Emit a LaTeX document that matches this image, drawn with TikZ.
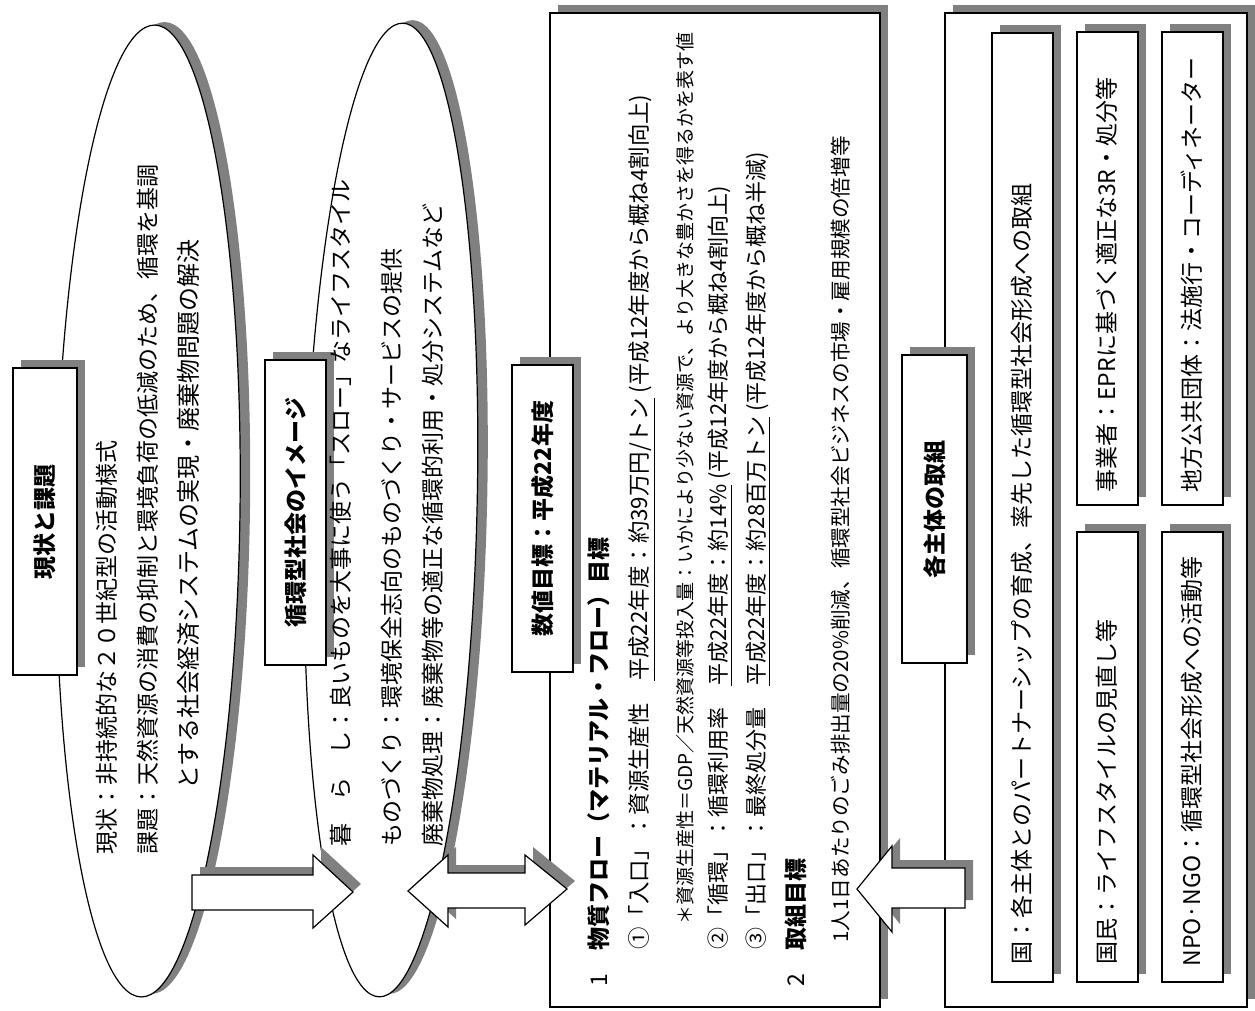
\documentclass[tikz,border=0pt]{standalone}
\usepackage{fontspec}
\setmainfont{Noto Sans CJK JP}
\usetikzlibrary{shapes.geometric,shadows}
\begin{document}
\begin{tikzpicture}[x=0.5pt,y=-0.5pt,
  shd/.style={drop shadow={shadow xshift=4pt,shadow yshift=4pt,fill=black!50,opacity=1}},
  box/.style={draw,fill=white,line width=0.6pt,inner sep=0pt,shd},
  oval/.style={ellipse,draw,fill=white,line width=0.6pt,inner sep=0pt,
    drop shadow={shadow xshift=5pt,shadow yshift=1.5pt,fill=black!50,opacity=1}},
  blockarrow/.style={draw,fill=white,line width=0.6pt,line join=miter,shd},
  txt/.style={rotate=90,anchor=west,inner sep=0pt,font=\fontsize{11.5pt}{14pt}\selectfont},
  fs/.style={font=\fontsize{#1}{14pt}\selectfont},
  ttl/.style={rotate=90,inner sep=0pt,font=\fontsize{11.5pt}{14pt}\selectfont\bfseries}]
\useasboundingbox (0,0) rectangle (1255,1011);
\fill[white] (0,0) rectangle (1255,1011);

% ellipses
\node[oval,minimum width=92pt,minimum height=486pt,rotate=-0.8] (e1) at (148,511) {};
\node[oval,minimum width=86pt,minimum height=487pt,rotate=-1.4] (e2) at (391,510) {};

% big boxes
\node[box,minimum width=165pt,minimum height=497pt] (b3) at (715,510) {};
\node[box,minimum width=151pt,minimum height=497pt] (b4) at (1096,510) {};

% inner boxes
\node[box,minimum width=30.5pt,minimum height=474.5pt] (i1) at (1022.5,507.5) {};
\node[box,minimum width=30.5pt,minimum height=236.5pt] (i2) at (1107.5,268.5) {};
\node[box,minimum width=30.5pt,minimum height=236.5pt] (i3) at (1192.5,268.5) {};
\node[box,minimum width=30.5pt,minimum height=225pt] (i4) at (1107.5,757) {};
\node[box,minimum width=30.5pt,minimum height=225pt] (i5) at (1192.5,757) {};

% block arrows
\draw[blockarrow] (192,875) -- (313,875) -- (313,855) -- (353,892) -- (313,928) -- (313,910) -- (192,910) -- cycle;
\draw[blockarrow] (408,891) -- (448,855) -- (448,873) -- (525,873) -- (525,855) -- (567,889) -- (525,925) -- (525,908) -- (448,908) -- (448,927) -- cycle;
\draw[blockarrow] (857,889) -- (892,846) -- (892,868) -- (965,868) -- (965,908) -- (892,908) -- (892,932) -- cycle;

% title boxes
\node[box,minimum width=32pt,minimum height=153.5pt] (tb1) at (45,521.5) {};
\node[box,minimum width=30.5pt,minimum height=152.5pt] (tb2) at (295.5,512.5) {};
\node[box,minimum width=30.5pt,minimum height=153.5pt] (tb3) at (542.5,518.5) {};
\node[box,minimum width=32.5pt,minimum height=154pt] (tb4) at (934.5,509) {};

\node[ttl] (t1) at (tb1.center) {現状と課題};
\node[ttl] (t2) at (tb2.center) {循環型社会のイメージ};
\node[ttl] (t3) at (tb3.center) {数値目標：平成22年度};
\node[ttl] (t4) at (tb4.center) {各主体の取組};

% ellipse 1 text
\node[txt] (a1) at (107,855) {現状：非持続的な２０世紀型の活動様式};
\node[txt] (a2) at (148,855) {課題：天然資源の消費の抑制と環境負荷の低減のため、循環を基調};
\node[txt,fs=12pt] (a3) at (188,790) {とする社会経済システムの実現・廃棄物問題の解決};

% ellipse 2 text
\node[txt] (s1) at (341,847) {暮　ら　し：良いものを大事に使う「スロー」なライフスタイル};
\node[txt] (s2) at (392,847) {ものづくり：環境保全志向のものづくり・サービスの提供};
\node[txt] (s3) at (433,847) {廃棄物処理：廃棄物等の適正な循環的利用・処分システムなど};

% box 3 text
\node[txt] (c1) at (599,987) {1\quad{\bfseries 物質フロー（マテリアル・フロー）目標}};
\node[txt,fs=11.2pt] (c2) at (642,950) {①「入口」：資源生産性　\underline{平成22年度：約39万円/トン} (平成12年度から概ね4割向上)};
\node[txt,fs=9.5pt] (c3) at (685,925) {＊資源生産性＝GDP／天然資源等投入量：いかにより少ない資源で、より大きな豊かさを得るかを表す値};
\node[txt,fs=11pt] (c4) at (720,950) {②「循環」：循環利用率　\underline{平成22年度：約14\%} (平成12年度から概ね4割向上)};
\node[txt,fs=11pt] (c5) at (758,950) {③「出口」：最終処分量　\underline{平成22年度：約28百万トン} (平成12年度から概ね半減)};
\node[txt] (c6) at (796,987) {2\quad{\bfseries 取組目標}};
\node[txt,fs=10.3pt] (c7) at (841,943) {1人1日あたりのごみ排出量の20\%削減、循環型社会ビジネスの市場・雇用規模の倍増等};

% box 4 text
\node[txt] (d1) at (1022,965) {国：各主体とのパートナーシップの育成、率先した循環型社会形成への取組};
\node[txt] (d2) at (1107,965) {国民：ライフスタイルの見直し等};
\node[txt] (d3) at (1192,967) {NPO·NGO：循環型社会形成への活動等};
\node[txt] (d4) at (1107,493) {事業者：EPRに基づく適正な3R・処分等};
\node[txt] (d5) at (1192,493) {地方公共団体：法施行・コーディネーター};
\end{tikzpicture}
\end{document}
